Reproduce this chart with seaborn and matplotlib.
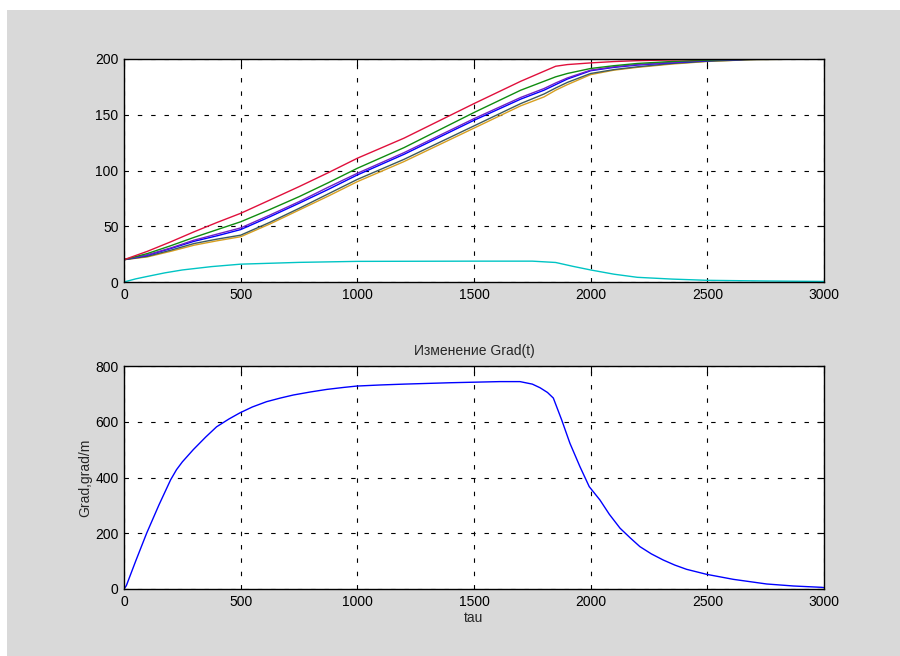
import matplotlib
matplotlib.use('Agg')
import matplotlib.pyplot as plt
import seaborn as sns
import pandas as pd
from matplotlib.patches import Rectangle

# ---- data ----
t_top = [0, 100, 200, 300, 400, 500, 625, 750, 875, 1000, 1200, 1500, 1700, 1800, 1850, 1900,
         2000, 2100, 2200, 2350, 2500, 2700, 3000]
red    = [20, 27.5, 36, 45, 53.5, 61.6, 73.5, 85.5, 98, 111, 129, 160, 180, 189, 193.5, 195,
          196.5, 197.7, 198.5, 199.2, 199.7, 200, 200]
green  = [20, 25.5, 32.5, 40, 47, 54, 65, 76.5, 89, 102, 120.5, 152, 172, 180, 184, 187,
          191.5, 194, 196, 197.8, 199, 200, 200]
purple = [20, 24.3, 30.5, 37.5, 43, 48.5, 60, 72, 85, 97.5, 116, 146.5, 165.5, 173.5, 178.5, 183,
          190, 193, 195, 197, 198.7, 200, 200]
blue   = [20, 24, 30, 36.5, 41.5, 47, 58.5, 70.6, 83, 96, 114.5, 145, 164, 172, 177, 182,
          189.5, 192.5, 194.6, 196.7, 198.5, 200, 200]
gray   = [20, 23, 28.5, 34.5, 38.5, 42, 53.5, 66, 79, 92, 110, 140, 160, 168.6, 174, 179,
          187, 190.5, 193, 196, 198, 199.5, 200]
orange = [20, 22.5, 27.5, 33, 37, 40.6, 52, 64.5, 77, 90, 108, 138, 158, 166, 172, 177,
          186, 190, 192.5, 195.5, 197.8, 199.5, 200]

t_cyan = [0, 50, 100, 175, 250, 375, 500, 750, 1000, 1500, 1750, 1850, 1925, 2000, 2100, 2200,
          2350, 2500, 2750, 3000]
cyan   = [0, 2.8, 5, 8.2, 10.8, 13.8, 16, 17.6, 18.5, 18.7, 18.7, 17.5, 14, 10.8, 7, 4.2,
          2.6, 1.5, 0.9, 0.5]

t_grad = [0, 10, 25, 50, 97, 150, 200, 225, 250, 297, 350, 397, 450, 497, 550, 611, 670, 726,
          800, 869, 940, 997, 1100, 1200, 1400, 1611, 1697, 1750, 1783, 1815, 1840, 1876,
          1911, 1954, 1994, 2040, 2080, 2126, 2170, 2211, 2260, 2311, 2360, 2411, 2497,
          2611, 2754, 2869, 2990, 3000]
grad   = [0, 12, 45, 100, 200, 302, 392, 428, 456, 500, 545, 582, 610, 632, 653, 672, 685, 696,
          707, 716, 723, 728, 732, 735, 740, 744, 744, 735, 722, 705, 685, 606,
          523, 439, 367, 319, 268, 218, 183, 152, 126, 104, 86, 70.6, 52.6,
          34.7, 18, 10.8, 6, 5]

curves = {
    'cyan': (t_cyan, cyan),
    'orange': (t_top, orange),
    'gray': (t_top, gray),
    'blue': (t_top, blue),
    'purple': (t_top, purple),
    'green': (t_top, green),
    'red': (t_top, red),
}
colors = {'cyan': '#00c4c4', 'orange': '#d8a020', 'gray': '#3c5a5e', 'blue': '#0000ff',
          'purple': '#7020c8', 'green': '#108c10', 'red': '#e0103c'}

rows = []
for name, (tt, vv) in curves.items():
    for a, b in zip(tt, vv):
        rows.append({'tau': a, 'T': b, 'curve': name})
df_top = pd.DataFrame(rows)
df_grad = pd.DataFrame({'tau': t_grad, 'Grad': grad})

sns.set_style('white')
plt.rcParams['font.family'] = ['Liberation Sans', 'DejaVu Sans']

bg = '#d9d9d9'
fig = plt.figure(figsize=(9, 6.56), dpi=100, facecolor='white')
fig.patches.append(Rectangle((7/900, 0), 1, 1 - 10/656, transform=fig.transFigure,
                             facecolor=bg, edgecolor='none', zorder=-10))

ax1 = fig.add_axes([124/900, (656-282)/656, 700/900, 223/656])
ax2 = fig.add_axes([124/900, (656-589)/656, 700/900, 223/656])

sns.lineplot(data=df_top, x='tau', y='T', hue='curve', hue_order=list(curves.keys()),
             palette=colors, legend=False, ax=ax1, linewidth=1.0, estimator=None)
sns.lineplot(data=df_grad, x='tau', y='Grad', color='#0000ff', ax=ax2, linewidth=1.0,
             estimator=None)

for ax in (ax1, ax2):
    ax.set_xlim(0, 3000)
    ax.set_xticks([0, 500, 1000, 1500, 2000, 2500, 3000])
    ax.set_facecolor('white')
    ax.grid(True, color='black', linestyle=(0, (4, 8)), linewidth=0.8)
    ax.tick_params(direction='in', top=True, right=True, length=5, width=0.8,
                   labelsize=10, colors='black', pad=4)
    for s in ax.spines.values():
        s.set_visible(True)
        s.set_color('black')
        s.set_linewidth(1.0)

ax1.set_ylim(0, 200)
ax1.set_yticks([0, 50, 100, 150, 200])
ax1.set_xlabel('')
ax1.set_ylabel('')

ax2.set_ylim(0, 800)
ax2.set_yticks([0, 200, 400, 600, 800])
ax2.set_title('Изменение Grad(t)', fontsize=10, pad=8)
ax2.set_xlabel('tau', fontsize=10, labelpad=2)
ax2.set_ylabel('Grad,grad/m', fontsize=10, labelpad=2)

fig.savefig('out.png', dpi=100, facecolor=fig.get_facecolor())
